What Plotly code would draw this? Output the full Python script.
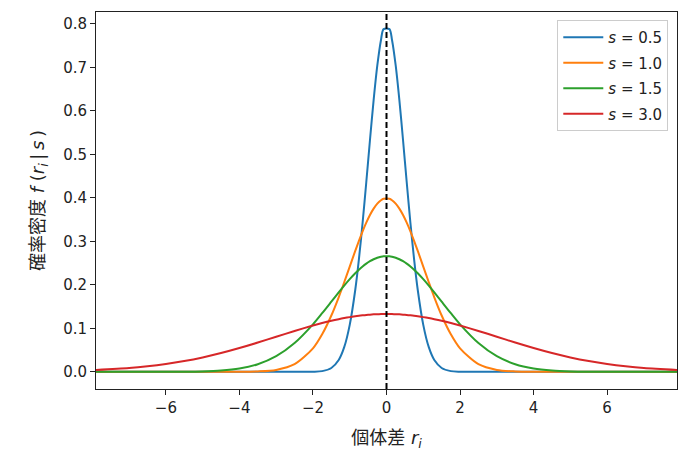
import plotly.graph_objects as go

# 個体差 r_i の値 (横軸)
r = [-7.9, -7.0, -6.5, -6.0, -5.5, -5.0, -4.5, -4.0, -3.5, -3.0, -2.5, -2.0, -1.75,
     -1.5, -1.3, -1.15, -1.0, -0.85, -0.75, -0.65, -0.55, -0.45, -0.35, -0.25, -0.15, -0.08,
     0.08, 0.15, 0.25, 0.35, 0.45, 0.55, 0.65, 0.75, 0.85, 1.0, 1.15, 1.3, 1.5,
     1.75, 2.0, 2.5, 3.0, 3.5, 4.0, 4.5, 5.0, 5.5, 6.0, 6.5, 7.0, 7.9]

# 確率密度 f(r_i | s)
f_s05 = [0, 0, 0, 0, 0, 0, 0, 0, 0, 0, 0, 0.0003, 0.0017,
         0.0089, 0.0272, 0.0567, 0.1080, 0.1881, 0.2590, 0.3427, 0.4357, 0.5322, 0.6245, 0.7041, 0.7628, 0.7877,
         0.7877, 0.7628, 0.7041, 0.6245, 0.5322, 0.4357, 0.3427, 0.2590, 0.1881, 0.1080, 0.0567, 0.0272, 0.0089,
         0.0017, 0.0003, 0, 0, 0, 0, 0, 0, 0, 0, 0, 0, 0]
f_s10 = [0, 0, 0, 0, 0, 0, 0, 0.0001, 0.0009, 0.0044, 0.0175, 0.0540, 0.0863,
         0.1295, 0.1714, 0.2059, 0.2420, 0.2780, 0.3011, 0.3230, 0.3429, 0.3605, 0.3752, 0.3867, 0.3945, 0.3977,
         0.3977, 0.3945, 0.3867, 0.3752, 0.3605, 0.3429, 0.3230, 0.3011, 0.2780, 0.2420, 0.2059, 0.1714, 0.1295,
         0.0863, 0.0540, 0.0175, 0.0044, 0.0009, 0.0001, 0, 0, 0, 0, 0, 0, 0]
f_s15 = [0, 0, 0, 0.0001, 0.0003, 0.0010, 0.0030, 0.0076, 0.0175, 0.0360, 0.0663, 0.1093, 0.1347,
         0.1613, 0.1827, 0.1982, 0.2130, 0.2265, 0.2347, 0.2421, 0.2487, 0.2543, 0.2588, 0.2623, 0.2646, 0.2656,
         0.2656, 0.2646, 0.2623, 0.2588, 0.2543, 0.2487, 0.2421, 0.2347, 0.2265, 0.2130, 0.1982, 0.1827, 0.1613,
         0.1347, 0.1093, 0.0663, 0.0360, 0.0175, 0.0076, 0.0030, 0.0010, 0.0003, 0.0001, 0, 0, 0]
f_s30 = [0.0042, 0.0087, 0.0127, 0.0180, 0.0248, 0.0332, 0.0432, 0.0547, 0.0673, 0.0807, 0.0940, 0.1065, 0.1122,
         0.1174, 0.1211, 0.1236, 0.1258, 0.1277, 0.1289, 0.1299, 0.1308, 0.1315, 0.1321, 0.1325, 0.1328, 0.1329,
         0.1329, 0.1328, 0.1325, 0.1321, 0.1315, 0.1308, 0.1299, 0.1289, 0.1277, 0.1258, 0.1236, 0.1211, 0.1174,
         0.1122, 0.1065, 0.0940, 0.0807, 0.0673, 0.0547, 0.0432, 0.0332, 0.0248, 0.0180, 0.0127, 0.0087, 0.0042]

labels = ['0.5', '1.0', '1.5', '3.0']
colors = ['#1f77b4', '#ff7f0e', '#2ca02c', '#d62728']
series = [f_s05, f_s10, f_s15, f_s30]

FONT = 'DejaVu Sans, Noto Sans CJK JP, sans-serif'

fig = go.Figure()
for lab, col, ys in zip(labels, colors, series):
    fig.add_trace(go.Scatter(x=r, y=ys, mode='lines', name='<i>s</i> = ' + lab,
                             legendgroup=lab,
                             line=dict(color=col, width=2, shape='spline', smoothing=0.8)))

# 中心の破線 (r = 0)
fig.add_shape(type='line', x0=0, x1=0, y0=0, y1=1, xref='x', yref='paper',
              line=dict(color='black', width=2, dash='6px,3px'))

axis_common = dict(showline=True, linecolor='#222', linewidth=1, mirror=True,
                   ticks='outside', ticklen=5, tickcolor='#222', showgrid=False,
                   zeroline=False, tickfont=dict(size=15, color='#222'))

fig.update_xaxes(range=[-7.9, 7.9], tickvals=[-6, -4, -2, 0, 2, 4, 6],
                 title=dict(text='個体差 <i>r<sub>i</sub></i>', font=dict(size=18, color='#222'), standoff=15),
                 **axis_common)
fig.update_yaxes(range=[-0.0394, 0.827], tickvals=[0, 0.1, 0.2, 0.3, 0.4, 0.5, 0.6, 0.7, 0.8],
                 tickformat='.1f',
                 title=dict(text='確率密度 <i>f</i> (<i>r<sub>i</sub></i>&#8201;|&#8201;<i>s</i>&#8201;)',
                            font=dict(size=18, color='#222'), standoff=13),
                 **axis_common)

fig.update_layout(
    width=691, height=452,
    margin=dict(l=88, r=22, t=4, b=71),
    plot_bgcolor='white', paper_bgcolor='white',
    font=dict(family=FONT, color='#222'),
    legend=dict(x=0.985, y=0.979, xanchor='right', yanchor='top',
                bgcolor='rgba(255,255,255,0.8)', bordercolor='#cccccc', borderwidth=1,
                font=dict(size=15), tracegroupgap=3, itemwidth=40),
    showlegend=True,
)

fig.write_html("out.html")
